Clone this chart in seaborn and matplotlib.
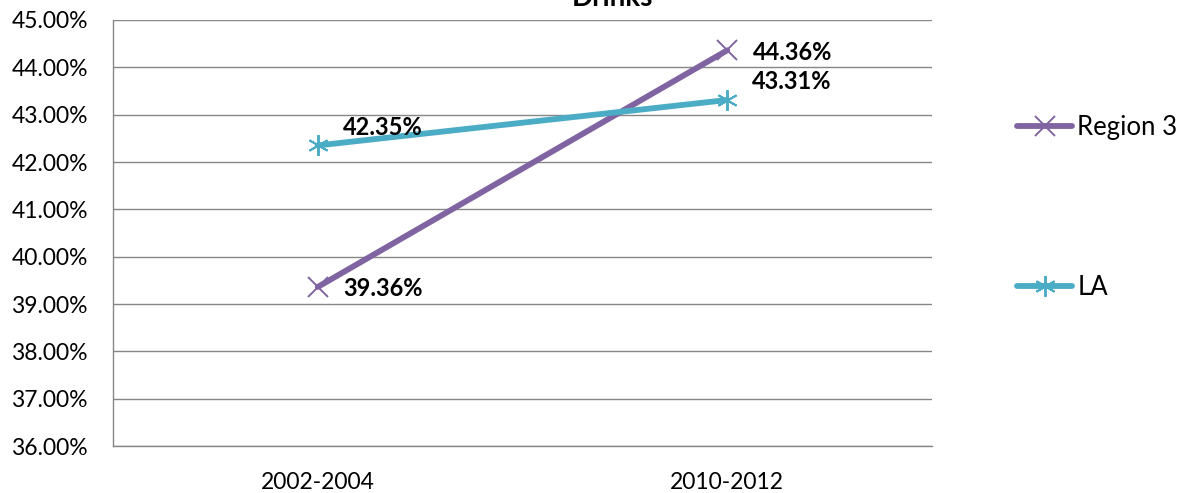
import pandas as pd
import numpy as np
import matplotlib.pyplot as plt
import seaborn as sns
from matplotlib.ticker import PercentFormatter, FixedLocator

# chart data (percent values)
periods = ["2002-2004", "2010-2012"]
region3 = [39.36, 44.36]
la = [42.35, 43.31]
series_names = ["Region 3", "LA"]

df = pd.DataFrame({
    "period": periods * 2,
    "value": region3 + la,
    "series": [series_names[0]] * len(periods) + [series_names[1]] * len(periods),
})

sns.set_style("white")
plt.rcParams['font.family'] = ['Lato', 'DejaVu Sans']
plt.rcParams['text.color'] = 'black'
plt.rcParams['xtick.labelcolor'] = 'black'
plt.rcParams['ytick.labelcolor'] = 'black'

grey = "#868686"
colors = {"Region 3": "#8064A2", "LA": "#4BACC6"}
markers = {"Region 3": "x", "LA": (6, 2, 0)}

fig = plt.figure(figsize=(11.85, 4.93), dpi=100)
ax = fig.add_axes([113 / 1185, 1 - 446 / 493, (932 - 113) / 1185, (446 - 20) / 493])

sns.lineplot(data=df, x="period", y="value", hue="series", style="series",
             hue_order=series_names, style_order=series_names,
             palette=colors, markers=markers, dashes=False, sort=False,
             linewidth=4.2, markersize=15, legend=False, ax=ax)

for line in ax.lines:
    line.set_markeredgewidth(1.4)
    line.set_markeredgecolor(line.get_color())
    line.set_solid_capstyle("round")

ax.set_xlim(-0.5, 1.5)
ax.set_ylim(36, 45)
ax.yaxis.set_major_locator(FixedLocator(np.arange(36, 45.5, 1)))
ax.yaxis.set_major_formatter(PercentFormatter(100, decimals=2))
ax.set_xticks(range(len(periods)))
ax.set_xticklabels(periods)
ax.xaxis.set_minor_locator(FixedLocator([-0.5, 0.5, 1.5]))
ax.tick_params(axis="x", which="major", length=0, pad=19, labelsize=16.5, labelcolor="black")
ax.tick_params(axis="x", which="minor", length=6, width=1, color=grey, direction="out")
ax.tick_params(axis="y", length=6, width=1, color=grey, direction="out", pad=12,
               labelsize=16.5, labelcolor="black")
ax.set_xlabel("")
ax.set_ylabel("")

ax.grid(axis="y", color=grey, linewidth=1)
ax.grid(axis="x", visible=False)
for s in ["top", "right"]:
    ax.spines[s].set_visible(False)
for s in ["left", "bottom"]:
    ax.spines[s].set_color(grey)
    ax.spines[s].set_linewidth(1)
ax.set_axisbelow(True)

# data labels
for i, v in enumerate(region3):
    ax.annotate(f"{v:.2f}%", (i, v), xytext=(26, -2), textcoords="offset pixels",
                ha="left", va="center", fontsize=17, fontweight="bold", color="black")
for i, v in enumerate(la):
    ax.annotate(f"{v:.2f}%", (i, v), xytext=(25, 18), textcoords="offset pixels",
                ha="left", va="center", fontsize=17, fontweight="bold", color="black")

fig.text(612 / 1185, 1 - 6 / 493, "Drinks", ha="center", va="baseline",
         fontsize=20, fontweight="bold", color="black")

handles = ax.lines[:2]
leg = fig.legend(handles, series_names, loc="upper left",
                 bbox_to_anchor=(1017 / 1185, 1 - 115 / 493), frameon=False,
                 fontsize=18.5, handlelength=2.15, handletextpad=0.2,
                 labelspacing=5.25, borderpad=0, borderaxespad=0)
for t in leg.get_texts():
    t.set_color("black")

fig.savefig("out.png", dpi=100)
